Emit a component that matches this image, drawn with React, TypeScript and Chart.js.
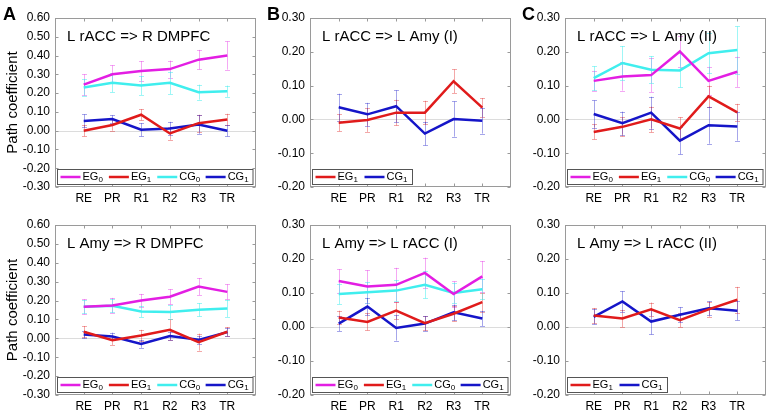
import React, { useEffect, useRef } from 'react';
import { Chart, registerables } from 'chart.js';
Chart.register(...registerables);

const categories = ['RE', 'PR', 'R1', 'R2', 'R3', 'TR'];
const wideTicks = [-0.3, -0.2, -0.1, 0, 0.1, 0.2, 0.3, 0.4, 0.5, 0.6];
const narrowTicks = [-0.2, -0.1, 0, 0.1, 0.2, 0.3];

// Panel A (upper): L rACC => R DMPFC
const aUpEG0 = [0.245, 0.3, 0.318, 0.328, 0.378, 0.4];
const aUpEG0Err = [0.055, 0.048, 0.052, 0.045, 0.052, 0.075];
const aUpEG1 = [0.0, 0.03, 0.085, -0.015, 0.04, 0.06];
const aUpEG1Err = [0.03, 0.03, 0.03, 0.033, 0.045, 0.03];
const aUpCG0 = [0.23, 0.255, 0.24, 0.255, 0.205, 0.21];
const aUpCG0Err = [0.045, 0.05, 0.05, 0.06, 0.04, 0.03];
const aUpCG1 = [0.052, 0.062, 0.005, 0.012, 0.033, 0.0];
const aUpCG1Err = [0.035, 0.02, 0.035, 0.035, 0.05, 0.03];

// Panel B (upper): L rACC => L Amy (I)
const bUpEG1 = [-0.01, -0.002, 0.02, 0.02, 0.113, 0.035];
const bUpEG1Err = [0.025, 0.035, 0.038, 0.035, 0.035, 0.028];
const bUpCG1 = [0.036, 0.015, 0.039, -0.042, 0.001, -0.004];
const bUpCG1Err = [0.04, 0.034, 0.047, 0.035, 0.052, 0.038];

// Panel C (upper): L rACC => L Amy (II)
const cUpEG0 = [0.114, 0.127, 0.131, 0.201, 0.114, 0.141];
const cUpEG0Err = [0.03, 0.042, 0.05, 0.045, 0.042, 0.045];
const cUpEG1 = [-0.037, -0.022, 0.0, -0.027, 0.068, 0.021];
const cUpEG1Err = [0.022, 0.028, 0.038, 0.033, 0.032, 0.025];
const cUpCG0 = [0.122, 0.167, 0.147, 0.145, 0.196, 0.205];
const cUpCG0Err = [0.035, 0.05, 0.04, 0.05, 0.06, 0.07];
const cUpCG1 = [0.016, -0.011, 0.02, -0.063, -0.017, -0.021];
const cUpCG1Err = [0.04, 0.034, 0.047, 0.04, 0.055, 0.042];

// Panel A (lower): L Amy => R DMPFC
const aLoEG0 = [0.167, 0.174, 0.2, 0.22, 0.274, 0.246];
const aLoEG0Err = [0.04, 0.04, 0.035, 0.04, 0.045, 0.04];
const aLoEG1 = [0.035, -0.01, 0.015, 0.045, -0.02, 0.035];
const aLoEG1Err = [0.03, 0.025, 0.03, 0.055, 0.045, 0.025];
const aLoCG0 = [0.167, 0.172, 0.142, 0.139, 0.151, 0.158];
const aLoCG0Err = [0.035, 0.035, 0.03, 0.035, 0.035, 0.045];
const aLoCG1 = [0.02, 0.01, -0.03, 0.012, -0.008, 0.033];
const aLoCG1Err = [0.02, 0.02, 0.02, 0.02, 0.02, 0.02];

// Panel B (lower): L Amy => L rACC (I)
const bLoEG0 = [0.135, 0.119, 0.124, 0.159, 0.097, 0.149];
const bLoEG0Err = [0.035, 0.048, 0.05, 0.045, 0.037, 0.045];
const bLoEG1 = [0.028, 0.015, 0.048, 0.011, 0.039, 0.073];
const bLoEG1Err = [0.02, 0.025, 0.025, 0.02, 0.022, 0.028];
const bLoCG0 = [0.097, 0.102, 0.107, 0.124, 0.1, 0.111];
const bLoCG0Err = [0.03, 0.03, 0.03, 0.04, 0.03, 0.03];
const bLoCG1 = [0.01, 0.06, -0.003, 0.01, 0.043, 0.025];
const bLoCG1Err = [0.022, 0.025, 0.037, 0.022, 0.022, 0.022];

// Panel C (lower): L Amy => L rACC (II)
const cLoEG1 = [0.034, 0.025, 0.052, 0.02, 0.052, 0.08];
const cLoEG1Err = [0.022, 0.025, 0.02, 0.02, 0.022, 0.038];
const cLoCG1 = [0.03, 0.075, 0.016, 0.036, 0.055, 0.048];
const cLoCG1Err = [0.022, 0.03, 0.038, 0.022, 0.02, 0.028];

const COLORS: Record<string, string> = {
  EG0: '#e31ee3',
  EG1: '#e01b1b',
  CG0: '#40eeee',
  CG1: '#1515c8',
};
const ERR_COLORS: Record<string, string> = {
  EG0: 'rgba(227,30,227,0.38)',
  EG1: 'rgba(224,27,27,0.38)',
  CG0: 'rgba(64,238,238,0.5)',
  CG1: 'rgba(21,21,200,0.38)',
};

const FONT = '"Liberation Sans", Arial, sans-serif';

type Series = { key: string; values: number[]; errors: number[] };
type PanelDef = {
  left: number;
  top: number;
  width: number;
  height: number;
  axisWidth: number;
  xAxisHeight: number;
  padTop: number;
  padRight: number;
  yMin: number;
  yMax: number;
  yTicks: number[];
  yTitle?: string;
  title: string;
  letter?: string;
  series: Series[];
};

const panels: PanelDef[] = [
  {
    left: 0, top: 0, width: 258, height: 205, axisWidth: 55, xAxisHeight: 18, padTop: 18, padRight: 2,
    yMin: -0.3, yMax: 0.6, yTicks: wideTicks, yTitle: 'Path coefficient', title: 'L rACC => R DMPFC', letter: 'A',
    series: [
      { key: 'EG0', values: aUpEG0, errors: aUpEG0Err },
      { key: 'EG1', values: aUpEG1, errors: aUpEG1Err },
      { key: 'CG0', values: aUpCG0, errors: aUpCG0Err },
      { key: 'CG1', values: aUpCG1, errors: aUpCG1Err },
    ],
  },
  {
    left: 255, top: 0, width: 258, height: 205, axisWidth: 55, xAxisHeight: 18, padTop: 18, padRight: 2,
    yMin: -0.2, yMax: 0.3, yTicks: narrowTicks, title: 'L rACC => L Amy (I)', letter: 'B',
    series: [
      { key: 'EG1', values: bUpEG1, errors: bUpEG1Err },
      { key: 'CG1', values: bUpCG1, errors: bUpCG1Err },
    ],
  },
  {
    left: 510, top: 0, width: 258, height: 205, axisWidth: 55, xAxisHeight: 18, padTop: 18, padRight: 2,
    yMin: -0.2, yMax: 0.3, yTicks: narrowTicks, title: 'L rACC => L Amy (II)', letter: 'C',
    series: [
      { key: 'EG0', values: cUpEG0, errors: cUpEG0Err },
      { key: 'EG1', values: cUpEG1, errors: cUpEG1Err },
      { key: 'CG0', values: cUpCG0, errors: cUpCG0Err },
      { key: 'CG1', values: cUpCG1, errors: cUpCG1Err },
    ],
  },
  {
    left: 0, top: 205, width: 258, height: 206, axisWidth: 55, xAxisHeight: 16, padTop: 20, padRight: 2,
    yMin: -0.3, yMax: 0.6, yTicks: wideTicks, yTitle: 'Path coefficient', title: 'L Amy => R DMPFC',
    series: [
      { key: 'EG0', values: aLoEG0, errors: aLoEG0Err },
      { key: 'EG1', values: aLoEG1, errors: aLoEG1Err },
      { key: 'CG0', values: aLoCG0, errors: aLoCG0Err },
      { key: 'CG1', values: aLoCG1, errors: aLoCG1Err },
    ],
  },
  {
    left: 255, top: 205, width: 258, height: 206, axisWidth: 55, xAxisHeight: 16, padTop: 20, padRight: 2,
    yMin: -0.2, yMax: 0.3, yTicks: narrowTicks, title: 'L Amy => L rACC (I)',
    series: [
      { key: 'EG0', values: bLoEG0, errors: bLoEG0Err },
      { key: 'EG1', values: bLoEG1, errors: bLoEG1Err },
      { key: 'CG0', values: bLoCG0, errors: bLoCG0Err },
      { key: 'CG1', values: bLoCG1, errors: bLoCG1Err },
    ],
  },
  {
    left: 510, top: 205, width: 258, height: 206, axisWidth: 55, xAxisHeight: 16, padTop: 20, padRight: 2,
    yMin: -0.2, yMax: 0.3, yTicks: narrowTicks, title: 'L Amy => L rACC (II)',
    series: [
      { key: 'EG1', values: cLoEG1, errors: cLoEG1Err },
      { key: 'CG1', values: cLoCG1, errors: cLoCG1Err },
    ],
  },
];

function makeDecorPlugin(def: PanelDef) {
  return {
    id: 'decor',
    beforeDatasetsDraw(chart: any) {
      const { ctx, chartArea } = chart;
      const xs = chart.scales.x;
      const ys = chart.scales.y;
      ctx.save();
      // zero line
      const y0 = Math.round(ys.getPixelForValue(0)) + 0.5;
      ctx.strokeStyle = '#dcdcdc';
      ctx.lineWidth = 1;
      ctx.beginPath();
      ctx.moveTo(chartArea.left, y0);
      ctx.lineTo(chartArea.right, y0);
      ctx.stroke();
      // error bars
      def.series.forEach((s) => {
        ctx.strokeStyle = ERR_COLORS[s.key];
        ctx.lineWidth = 1;
        s.values.forEach((v, i) => {
          const x = Math.round(xs.getPixelForValue(i + 1)) + 0.5;
          const yt = ys.getPixelForValue(v + s.errors[i]);
          const yb = ys.getPixelForValue(v - s.errors[i]);
          ctx.beginPath();
          ctx.moveTo(x, yt);
          ctx.lineTo(x, yb);
          ctx.moveTo(x - 2.5, Math.round(yt) + 0.5);
          ctx.lineTo(x + 2.5, Math.round(yt) + 0.5);
          ctx.moveTo(x - 2.5, Math.round(yb) + 0.5);
          ctx.lineTo(x + 2.5, Math.round(yb) + 0.5);
          ctx.stroke();
        });
      });
      ctx.restore();
    },
    afterDraw(chart: any) {
      const { ctx, chartArea } = chart;
      const xs = chart.scales.x;
      const ys = chart.scales.y;
      const L = Math.round(chartArea.left) + 0.5;
      const R = Math.round(chartArea.right) - 0.5;
      const T = Math.round(chartArea.top) + 0.5;
      const B = Math.round(chartArea.bottom) - 0.5;
      ctx.save();
      // box
      ctx.strokeStyle = '#9a9a9a';
      ctx.lineWidth = 1;
      ctx.strokeRect(L, T, R - L, B - T);
      // tick marks
      ctx.beginPath();
      for (let i = 1; i <= categories.length; i++) {
        const x = Math.round(xs.getPixelForValue(i)) + 0.5;
        ctx.moveTo(x, B);
        ctx.lineTo(x, B - 3);
        ctx.moveTo(x, T);
        ctx.lineTo(x, T + 3);
      }
      def.yTicks.forEach((t) => {
        const y = Math.round(ys.getPixelForValue(t)) + 0.5;
        ctx.moveTo(L, y);
        ctx.lineTo(L + 3, y);
        ctx.moveTo(R, y);
        ctx.lineTo(R - 3, y);
      });
      ctx.stroke();
      // title
      ctx.fillStyle = '#000';
      ctx.font = `15px ${FONT}`;
      ctx.textBaseline = 'middle';
      ctx.textAlign = 'left';
      ctx.fillText(def.title, chartArea.left + 12, chartArea.top + 19);
      // legend
      const n = def.series.length;
      const entryW = 49;
      const lx = Math.round(chartArea.left) + 2.5;
      const lw = n === 4 ? Math.round(chartArea.right) - 3 - lx : n * entryW + 2;
      const lh = 15;
      const ly = Math.round(chartArea.bottom) - 3 - lh + 0.5;
      ctx.fillStyle = '#fff';
      ctx.fillRect(lx, ly, lw, lh);
      ctx.strokeStyle = '#555';
      ctx.strokeRect(lx, ly, lw, lh);
      const step = (lw - 2) / n;
      def.series.forEach((s, i) => {
        const ex = lx + 3 + i * step;
        const ey = ly + lh / 2;
        ctx.strokeStyle = COLORS[s.key];
        ctx.lineWidth = 2.5;
        ctx.beginPath();
        ctx.moveTo(ex, ey);
        ctx.lineTo(ex + 20, ey);
        ctx.stroke();
        ctx.fillStyle = '#000';
        ctx.font = `11px ${FONT}`;
        ctx.textBaseline = 'middle';
        const main = s.key.slice(0, 2);
        const sub = s.key.slice(2);
        ctx.fillText(main, ex + 22, ey);
        const w = ctx.measureText(main).width;
        ctx.font = `8px ${FONT}`;
        ctx.fillText(sub, ex + 22 + w, ey + 3);
      });
      // panel letter
      if (def.letter) {
        ctx.fillStyle = '#000';
        ctx.font = `bold 18px ${FONT}`;
        ctx.textBaseline = 'alphabetic';
        ctx.textAlign = 'left';
        ctx.fillText(def.letter, def.left === 0 ? 3 : 12, 20);
      }
      ctx.restore();
    },
  };
}

function Panel({ def }: { def: PanelDef }) {
  const ref = useRef<HTMLCanvasElement | null>(null);
  useEffect(() => {
    if (!ref.current) return;
    const chart = new Chart(ref.current, {
      type: 'line',
      data: {
        datasets: def.series.map((s) => ({
          label: s.key,
          data: s.values.map((v, i) => ({ x: i + 1, y: v })),
          borderColor: COLORS[s.key],
          backgroundColor: COLORS[s.key],
          borderWidth: 2.5,
          pointRadius: 0,
          tension: 0,
          fill: false,
        })),
      },
      options: {
        animation: false,
        responsive: false,
        devicePixelRatio: 1,
        events: [],
        layout: { padding: { top: def.padTop, right: def.padRight, left: 0, bottom: 0 } },
        plugins: { legend: { display: false }, tooltip: { enabled: false } },
        scales: {
          x: {
            type: 'linear',
            min: 0,
            max: 7,
            grid: { display: false, drawTicks: false },
            border: { display: false },
            afterBuildTicks: (scale: any) => {
              scale.ticks = categories.map((_, i) => ({ value: i + 1 }));
            },
            afterFit: (scale: any) => {
              scale.height = def.xAxisHeight;
            },
            ticks: {
              autoSkip: false,
              maxRotation: 0,
              padding: 4,
              color: '#000',
              font: { family: FONT, size: 12 },
              callback: (v: any) => categories[Number(v) - 1] ?? '',
            },
          },
          y: {
            type: 'linear',
            min: def.yMin,
            max: def.yMax,
            grid: { display: false, drawTicks: false },
            border: { display: false },
            afterBuildTicks: (scale: any) => {
              scale.ticks = def.yTicks.map((t) => ({ value: t }));
            },
            afterFit: (scale: any) => {
              scale.width = def.axisWidth;
            },
            title: def.yTitle
              ? { display: true, text: def.yTitle, color: '#000', font: { family: FONT, size: 15 }, padding: { top: 4, bottom: 0 } }
              : { display: false },
            ticks: {
              padding: 5,
              color: '#000',
              font: { family: FONT, size: 12 },
              callback: (v: any) => (Math.abs(Number(v)) < 1e-9 ? '0.00' : Number(v).toFixed(2)),
            },
          },
        },
      },
      plugins: [makeDecorPlugin(def)],
    } as any);
    return () => chart.destroy();
  }, [def]);
  return (
    <canvas
      ref={ref}
      width={def.width}
      height={def.height}
      style={{ position: 'absolute', left: def.left, top: def.top, width: def.width, height: def.height }}
    />
  );
}

export default function App() {
  return (
    <div style={{ position: 'absolute', left: 0, top: 0, width: 771, height: 411, background: '#fff', overflow: 'hidden' }}>
      {panels.map((p, i) => (
        <Panel key={i} def={p} />
      ))}
    </div>
  );
}
